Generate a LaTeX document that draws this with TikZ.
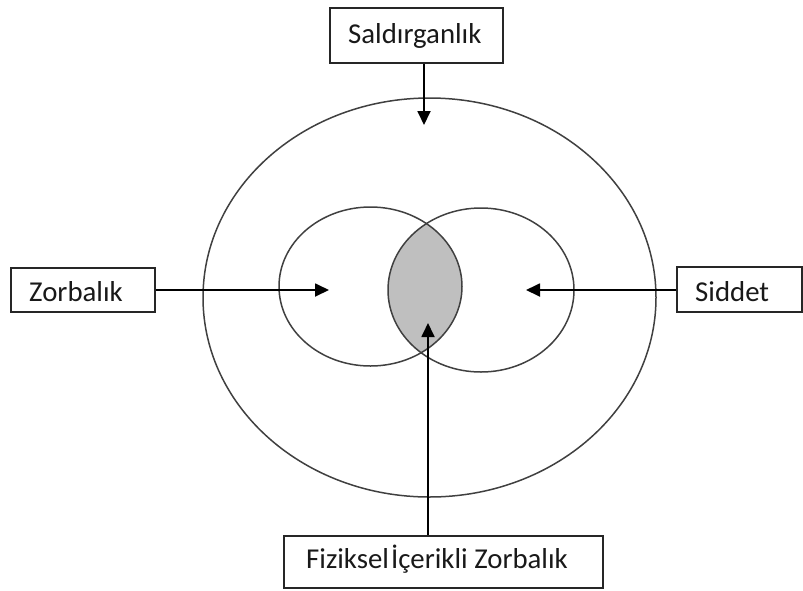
\documentclass[tikz,border=0pt]{standalone}
\usepackage{fontspec}
\setmainfont{Carlito}
\usetikzlibrary{arrows.meta}
\tikzset{
  box/.style={draw=black!85, line width=1.8pt, fill=white, inner sep=0pt},
  lbl/.style={anchor=base west, inner sep=0pt, text=black!90, font=\fontsize{28.8}{32}\selectfont},
  ring/.style={draw=black!75, line width=1.5pt},
  arr/.style={draw=black, line width=1.8pt, -{Triangle[length=14pt,width=13pt]}},
}
\begin{document}
\begin{tikzpicture}[x=1pt,y=-1pt]
\useasboundingbox (0,0) rectangle (803,590);
% circles
\draw[ring] (429.5,297.5) ellipse [x radius=226.5, y radius=199.5];
\begin{scope}
  \clip (370.5,286.5) ellipse [x radius=91.5, y radius=79.5];
  \fill[black!25] (481,290) ellipse [x radius=93, y radius=82];
\end{scope}
\draw[ring] (370.5,286.5) ellipse [x radius=91.5, y radius=79.5];
\draw[ring] (481,290) ellipse [x radius=93, y radius=82];
% boxes
\node[box, minimum width=173pt, minimum height=55pt] (sal) at (416.5,35.5) {};
\node[lbl] (salt) at (348,43) {Saldırganlık};
\node[box, minimum width=144pt, minimum height=44pt] (zor) at (83,290) {};
\node[lbl] (zort) at (29,301.5) {Zorbalık};
\node[box, minimum width=125pt, minimum height=45pt] (sid) at (739.5,289.5) {};
\node[lbl] (sidt) at (695,301.5) {Siddet};
\node[box, minimum width=319pt, minimum height=52pt] (fiz) at (443.5,562) {};
\node[lbl] (fizt) at (306,568) {Fiziksel\hspace{2pt}İçerikli Zorbalık};
% arrow tips
\coordinate (t1) at (424,125);
\coordinate (t2) at (329,290);
\coordinate (t3) at (526,290);
\coordinate (t4) at (428,323);
\draw[arr] (sal.south -| t1) -- (t1);
\draw[arr] (zor.east) -- (t2);
\draw[arr] (t3 -| sid.west) -- (t3);
\draw[arr] (fiz.north -| t4) -- (t4);
\end{tikzpicture}
\end{document}
